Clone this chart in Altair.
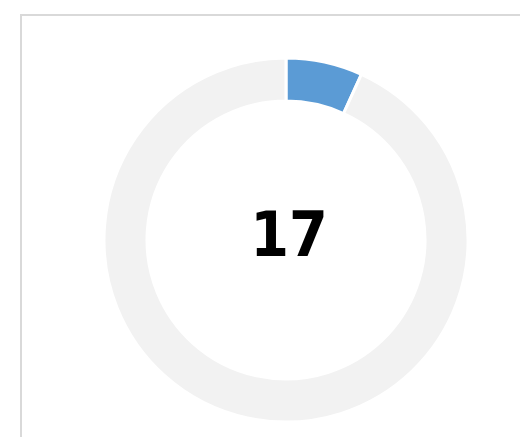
import altair as alt
import pandas as pd

# data
segments = ["value", "rest"]
amounts = [17, 233]
center_label = ["17"]

colors = ["#5b9bd5", "#f2f2f2"]

df = pd.DataFrame({"segment": segments, "amount": amounts, "idx": [0, 1]})
lab = pd.DataFrame({"label": center_label})

cx, cy = 278, 232

donut = alt.Chart(df).mark_arc(
    radius=182, radius2=139, stroke="white", strokeWidth=3
).encode(
    theta=alt.Theta("amount:Q", stack=True),
    order=alt.Order("idx:Q"),
    color=alt.Color("segment:N", scale=alt.Scale(domain=segments, range=colors), legend=None),
    x=alt.value(cx),
    y=alt.value(cy),
)

text = alt.Chart(lab).mark_text(
    font="DejaVu Sans Condensed", fontWeight="bold", fontSize=62, align="center",
    baseline="alphabetic", color="#000000"
).encode(
    text="label:N",
    x=alt.value(281),
    y=alt.value(248),
)

# card frame (left and top borders)
frame_left = alt.Chart(lab).mark_rule(color="#d9d9d9", strokeWidth=2).encode(
    x=alt.value(13), y=alt.value(6), y2=alt.value(429)
)
frame_top = alt.Chart(lab).mark_rule(color="#d9d9d9", strokeWidth=2).encode(
    x=alt.value(12), x2=alt.value(512), y=alt.value(7)
)

chart = alt.layer(frame_left, frame_top, donut, text).properties(
    width=512, height=429, autosize=alt.AutoSizeParams(type="none"), padding=0,
    background="white"
).configure_view(stroke=None)

chart.save("out.html", embed_options={"renderer": "svg", "actions": False})
